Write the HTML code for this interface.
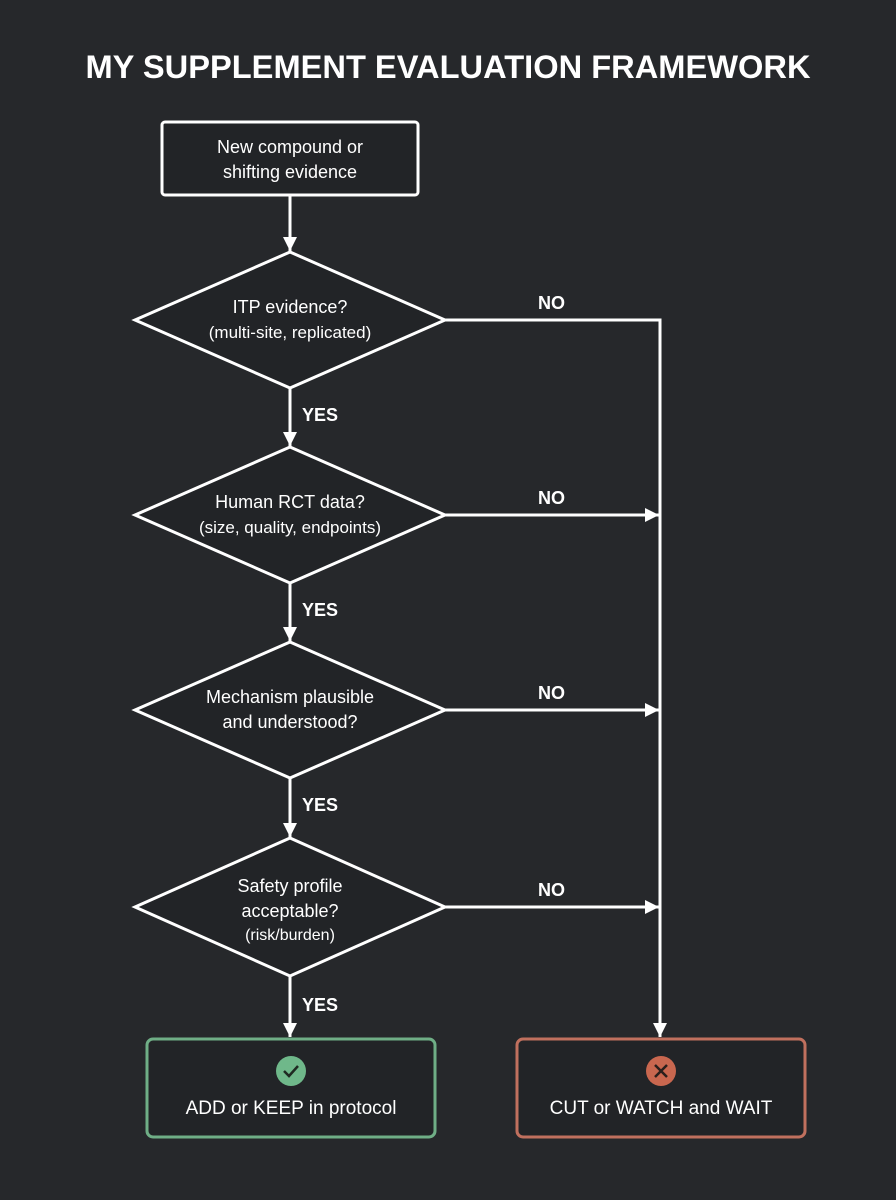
<!DOCTYPE html>
<html><head><meta charset="utf-8"><style>
html,body{margin:0;padding:0;background:#26282b;}
svg{display:block;font-family:"Liberation Sans",sans-serif;}
</style></head><body>
<svg width="896" height="1200" viewBox="0 0 896 1200">
<defs><marker id="b" markerWidth="16" markerHeight="16" refX="14" refY="7" orient="auto" markerUnits="userSpaceOnUse"><path d="M0,0 L14,7 L0,14 z" fill="#fff"/></marker></defs>
<rect width="896" height="1200" fill="#26282b"/>
<text x="448" y="78" text-anchor="middle" fill="#fff" font-size="32" font-weight="bold" textLength="725" lengthAdjust="spacingAndGlyphs">MY SUPPLEMENT EVALUATION FRAMEWORK</text>
<g stroke="#fff" stroke-width="3" fill="#222427">
<rect x="162" y="122" width="256" height="73" rx="3"/>
<polygon points="290,252 445,320 290,388 135,320"/>
<polygon points="290,447 445,515 290,583 135,515"/>
<polygon points="290,642 445,710 290,778 135,710"/>
<polygon points="290,838 445,907 290,976 135,907"/>
</g>
<g stroke="#fff" stroke-width="3" fill="none" marker-end="url(#b)">
<line x1="290" y1="195" x2="290" y2="251"/>
<line x1="290" y1="388" x2="290" y2="446"/>
<line x1="290" y1="583" x2="290" y2="641"/>
<line x1="290" y1="778" x2="290" y2="837"/>
<line x1="290" y1="976" x2="290" y2="1037"/>
<line x1="445" y1="515" x2="659" y2="515"/>
<line x1="445" y1="710" x2="659" y2="710"/>
<line x1="445" y1="907" x2="659" y2="907"/>
<polyline points="445,320 660,320 660,1037"/>
</g>
<g fill="#fff" font-size="18" text-anchor="middle">
<text x="290" y="153">New compound or</text><text x="290" y="178">shifting evidence</text>
<text x="290" y="313">ITP evidence?</text><text x="290" y="338" font-size="17">(multi-site, replicated)</text>
<text x="290" y="508">Human RCT data?</text><text x="290" y="533" font-size="17">(size, quality, endpoints)</text>
<text x="290" y="703">Mechanism plausible</text><text x="290" y="728">and understood?</text>
<text x="290" y="892">Safety profile</text><text x="290" y="917">acceptable?</text><text x="290" y="940" font-size="16">(risk/burden)</text>
</g>
<g fill="#fff" font-size="18" font-weight="bold">
<text x="302" y="421">YES</text><text x="302" y="616">YES</text><text x="302" y="811">YES</text><text x="302" y="1011">YES</text>
<text x="538" y="309">NO</text><text x="538" y="504">NO</text><text x="538" y="699">NO</text><text x="538" y="896">NO</text>
</g>
<rect x="147" y="1039" width="288" height="98" rx="6" fill="#222427" stroke="#6fae86" stroke-width="3"/>
<rect x="517" y="1039" width="288" height="98" rx="6" fill="#222427" stroke="#c0705e" stroke-width="3"/>
<circle cx="291" cy="1071" r="15" fill="#6fb88a"/>
<path d="M284,1071 l5,5 l9,-10" stroke="#1f2a22" stroke-width="2.5" fill="none"/>
<circle cx="661" cy="1071" r="15" fill="#c9674f"/>
<path d="M655,1065 l12,12 M667,1065 l-12,12" stroke="#2a1f1c" stroke-width="2.5"/>
<text x="291" y="1114" fill="#fff" font-size="19" text-anchor="middle">ADD or KEEP in protocol</text>
<text x="661" y="1114" fill="#fff" font-size="19" text-anchor="middle">CUT or WATCH and WAIT</text>
</svg>
</body></html>
